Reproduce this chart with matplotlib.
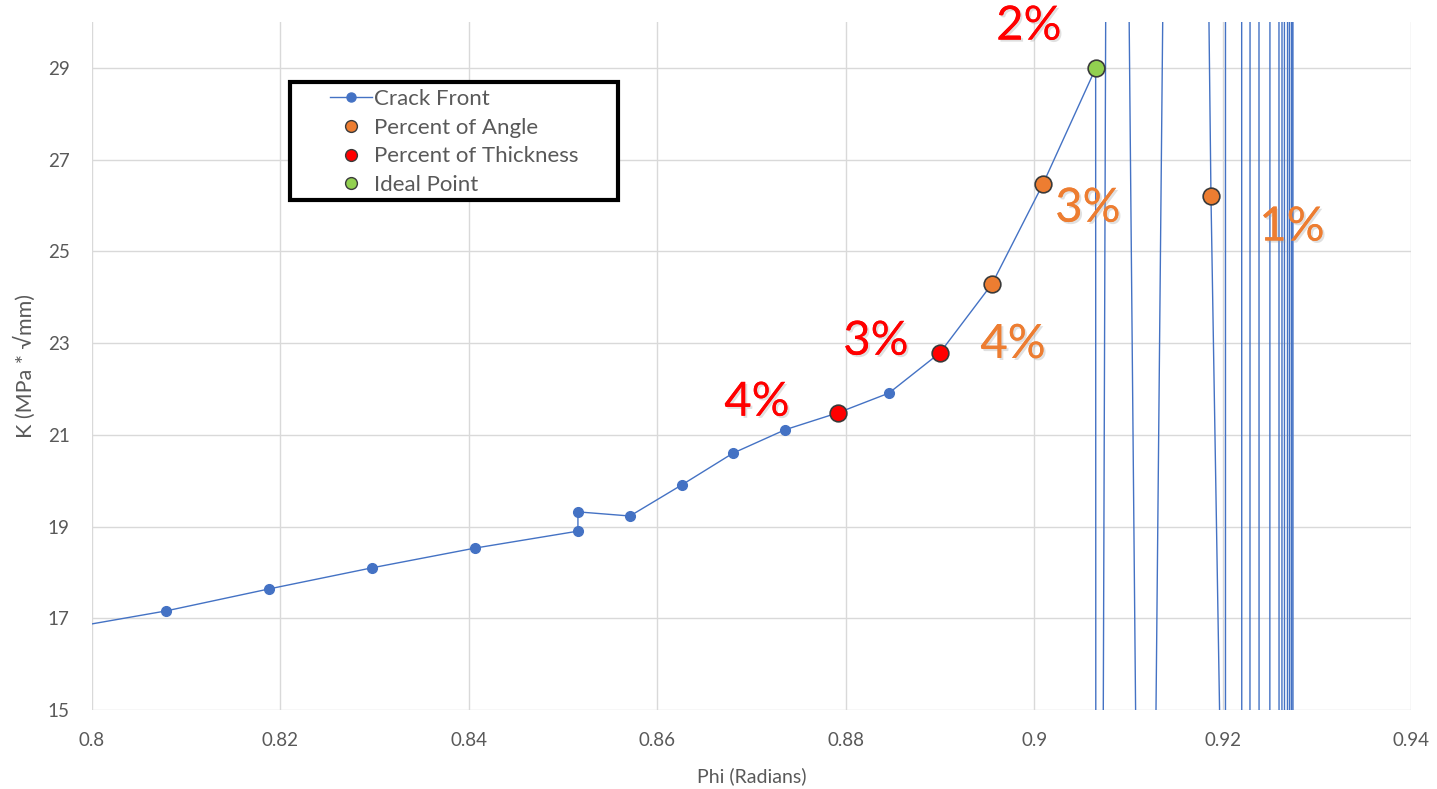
import matplotlib
matplotlib.use("Agg")
import matplotlib.pyplot as plt
import matplotlib.patheffects as pe
from matplotlib.lines import Line2D
from matplotlib.patches import Rectangle

# crack front K along the front; the tail past the ideal point blows up
crack_phi = [0.79700, 0.80785, 0.81879, 0.82972, 0.84065, 0.85158, 0.85158,
             0.85710, 0.86262, 0.86804, 0.87356, 0.87918, 0.88459, 0.89001,
             0.89553, 0.90094, 0.90653, 0.90659, 0.90827, 0.91183, 0.91590,
             0.91877, 0.92031, 0.92038, 0.92249, 0.92339, 0.92440, 0.92556,
             0.92615, 0.92643, 0.92673, 0.92700, 0.92721, 0.92742, 0.92753]
crack_k = [16.77, 17.16, 17.64, 18.10, 18.53, 18.90, 19.32,
           19.23, 19.91, 20.60, 21.11, 21.48, 21.91, 22.79,
           24.29, 26.47, 28.99, -29.4, 70.0, -8.3, 77.5,
           26.21, 7.3, 3000.0, -800.0, 950.0, -1000.0, 900.0,
           -300.0, 280.0, -275.0, 220.0, -175.0, 220.0, -200.0]

angle_phi = [0.89553, 0.90094, 0.91877]
angle_k = [24.29, 26.47, 26.21]
thick_phi = [0.87918, 0.89001]
thick_k = [21.48, 22.79]
ideal_phi = [0.90653]
ideal_k = [28.99]

pct_text = ["2%", "3%", "1%", "4%", "3%", "4%"]
pct_phi = [0.89945, 0.90571, 0.92737, 0.89776, 0.88321, 0.87058]
pct_k = [29.90, 25.93, 25.52, 22.96, 23.03, 21.70]
pct_color = ["#FF0000", "#ED7D31", "#ED7D31", "#ED7D31", "#FF0000", "#FF0000"]

x_ticks = [0.8, 0.82, 0.84, 0.86, 0.88, 0.9, 0.92, 0.94]
x_tick_labels = ["0.8", "0.82", "0.84", "0.86", "0.88", "0.9", "0.92", "0.94"]
y_ticks = [15, 17, 19, 21, 23, 25, 27, 29]

blue = "#4472C4"
orange = "#ED7D31"
red = "#FF0000"
green = "#92D050"
edge = "#3A3A3A"
grey = "#595959"

plt.rcParams["font.family"] = ["Lato", "DejaVu Sans"]

fig = plt.figure(figsize=(14.37, 7.89), dpi=100)
ax = fig.add_axes([0.0640, 0.1001, 0.9179, 0.8720])

ax.plot(crack_phi, crack_k, color=blue, lw=1.0, marker="o", ms=7,
        mfc=blue, mec=blue, zorder=3)
ax.plot(angle_phi, angle_k, ls="none", marker="o", ms=12, mfc=orange,
        mec=edge, mew=1.2, zorder=4)
ax.plot(thick_phi, thick_k, ls="none", marker="o", ms=12, mfc=red,
        mec=edge, mew=1.2, zorder=4)
ax.plot(ideal_phi, ideal_k, ls="none", marker="o", ms=12, mfc=green,
        mec=edge, mew=1.2, zorder=4)

shadow = [pe.withSimplePatchShadow(offset=(1.5, -1.5), shadow_rgbFace="#9A9A9A",
                                   alpha=0.3), pe.Normal()]
for s, px, pk, c in zip(pct_text, pct_phi, pct_k, pct_color):
    ax.text(px, pk, s, color=c, fontsize=34, fontweight="normal",
            ha="center", va="center", clip_on=False, zorder=6,
            path_effects=shadow)

ax.set_xlim(0.8, 0.94)
ax.set_ylim(15, 30)
ax.set_xticks(x_ticks)
ax.set_xticklabels(x_tick_labels)
ax.set_yticks(y_ticks)
ax.grid(color="#D9D9D9", lw=1.0)
ax.set_axisbelow(True)
for sp in ax.spines.values():
    sp.set_visible(False)
ax.tick_params(length=0, labelsize=13.5, labelcolor=grey, pad=16)

ax.set_xlabel("Phi (Radians)", fontsize=14, color=grey, va="center")
ax.xaxis.set_label_coords(0.5, -0.096)
ax.set_ylabel("K (MPa * \u221amm)", fontsize=15.5, color=grey, va="center")
ax.yaxis.set_label_coords(-0.0508, 0.5)

# legend box with a heavy black border
box = Rectangle((290 / 1437, 1 - 200 / 789), 328 / 1437, 118 / 789,
                transform=fig.transFigure, fc="white", ec="black", lw=3,
                zorder=4)
fig.add_artist(box)

handles = [
    Line2D([], [], color=blue, lw=1.0, marker="o", ms=6.5, mfc=blue, mec=blue),
    Line2D([], [], ls="none", marker="o", ms=8.5, mfc=orange, mec=edge, mew=1.0),
    Line2D([], [], ls="none", marker="o", ms=8.5, mfc=red, mec=edge, mew=1.0),
    Line2D([], [], ls="none", marker="o", ms=8.5, mfc=green, mec=edge, mew=1.0),
]
labels = ["Crack Front", "Percent of Angle", "Percent of Thickness", "Ideal Point"]
fig.legend(handles, labels, loc="upper left",
           bbox_to_anchor=(330 / 1437, 1 - 89 / 789), frameon=False,
           fontsize=16, labelcolor=grey, handlelength=1.9,
           handletextpad=0.1, labelspacing=0.39, borderpad=0,
           borderaxespad=0)

fig.savefig("out.png", dpi=100)
